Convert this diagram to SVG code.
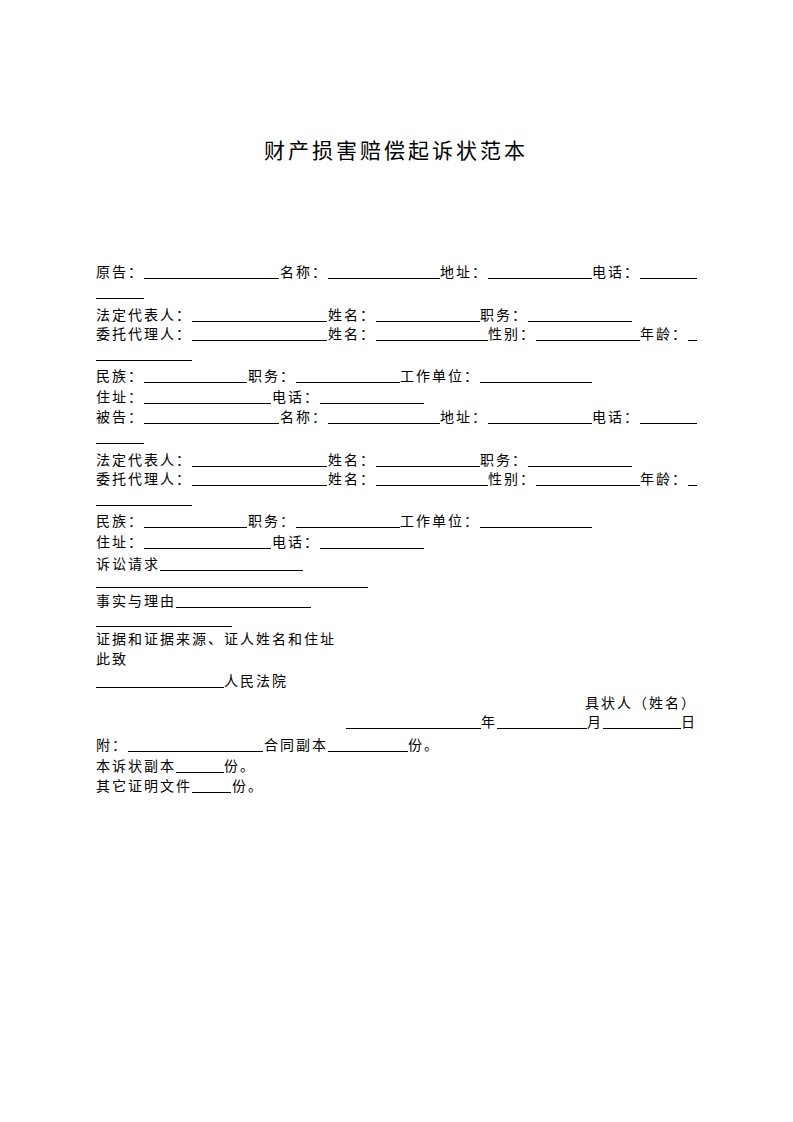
<svg xmlns="http://www.w3.org/2000/svg" width="793" height="1122" viewBox="0 0 793 1122">
<style>
.t{font-family:"Noto Sans CJK SC","Noto Sans CJK JP",sans-serif;font-size:14px;letter-spacing:2px;fill:#000}
.h{font-family:"Noto Sans CJK SC","Noto Sans CJK JP",sans-serif;font-size:21px;letter-spacing:3px;fill:#000}
.u line{stroke:#000;stroke-width:1}
</style>
<rect width="793" height="1122" fill="#fff"/>
<g id="title"><text class="h" x="264" y="158">财产损害赔偿起诉状范本</text></g>

<g id="plaintiff">
<text class="t" x="96" y="277">原告：</text>
<text class="t" x="280" y="277">名称：</text>
<text class="t" x="440" y="277">地址：</text>
<text class="t" x="592" y="277">电话：</text>
<text class="t" x="96" y="320">法定代表人：</text>
<text class="t" x="328" y="320">姓名：</text>
<text class="t" x="480" y="320">职务：</text>
<text class="t" x="96" y="339">委托代理人：</text>
<text class="t" x="328" y="339">姓名：</text>
<text class="t" x="488" y="339">性别：</text>
<text class="t" x="640" y="339">年龄：</text>
<text class="t" x="96" y="381">民族：</text>
<text class="t" x="248" y="381">职务：</text>
<text class="t" x="400" y="381">工作单位：</text>
<text class="t" x="96" y="402">住址：</text>
<text class="t" x="272" y="402">电话：</text>
</g>

<g id="defendant">
<text class="t" x="96" y="422">被告：</text>
<text class="t" x="280" y="422">名称：</text>
<text class="t" x="440" y="422">地址：</text>
<text class="t" x="592" y="422">电话：</text>
<text class="t" x="96" y="465">法定代表人：</text>
<text class="t" x="328" y="465">姓名：</text>
<text class="t" x="480" y="465">职务：</text>
<text class="t" x="96" y="484">委托代理人：</text>
<text class="t" x="328" y="484">姓名：</text>
<text class="t" x="488" y="484">性别：</text>
<text class="t" x="640" y="484">年龄：</text>
<text class="t" x="96" y="526">民族：</text>
<text class="t" x="248" y="526">职务：</text>
<text class="t" x="400" y="526">工作单位：</text>
<text class="t" x="96" y="547">住址：</text>
<text class="t" x="272" y="547">电话：</text>
</g>

<g id="body">
<text class="t" x="96" y="569">诉讼请求</text>
<text class="t" x="96" y="606">事实与理由</text>
<text class="t" x="96" y="644">证据和证据来源、证人姓名和住址</text>
<text class="t" x="96" y="664">此致</text>
<text class="t" x="224" y="686">人民法院</text>
<text class="t" x="585" y="708">具状人（姓名）</text>
<text class="t" x="481" y="727">年</text>
<text class="t" x="587" y="727">月</text>
<text class="t" x="681" y="727">日</text>
<text class="t" x="96" y="750">附：</text>
<text class="t" x="264" y="750">合同副本</text>
<text class="t" x="408" y="750">份。</text>
<text class="t" x="96" y="771">本诉状副本</text>
<text class="t" x="224" y="771">份。</text>
<text class="t" x="96" y="791">其它证明文件</text>
<text class="t" x="232" y="791">份。</text>
</g>

<g id="underlines" class="u">
<line x1="144" y1="278.5" x2="279" y2="278.5"/>
<line x1="328" y1="278.5" x2="440" y2="278.5"/>
<line x1="488" y1="278.5" x2="592" y2="278.5"/>
<line x1="640" y1="278.5" x2="697" y2="278.5"/>
<line x1="96" y1="298.5" x2="144" y2="298.5"/>
<line x1="192" y1="321.5" x2="327" y2="321.5"/>
<line x1="376" y1="321.5" x2="480" y2="321.5"/>
<line x1="528" y1="321.5" x2="632" y2="321.5"/>
<line x1="192" y1="340.5" x2="327" y2="340.5"/>
<line x1="376" y1="340.5" x2="488" y2="340.5"/>
<line x1="536" y1="340.5" x2="640" y2="340.5"/>
<line x1="688" y1="340.5" x2="697" y2="340.5"/>
<line x1="96" y1="360.5" x2="192" y2="360.5"/>
<line x1="144" y1="382.5" x2="247" y2="382.5"/>
<line x1="296" y1="382.5" x2="400" y2="382.5"/>
<line x1="480" y1="382.5" x2="592" y2="382.5"/>
<line x1="144" y1="403.5" x2="271" y2="403.5"/>
<line x1="320" y1="403.5" x2="424" y2="403.5"/>

<line x1="144" y1="423.5" x2="279" y2="423.5"/>
<line x1="328" y1="423.5" x2="440" y2="423.5"/>
<line x1="488" y1="423.5" x2="592" y2="423.5"/>
<line x1="640" y1="423.5" x2="697" y2="423.5"/>
<line x1="96" y1="443.5" x2="144" y2="443.5"/>
<line x1="192" y1="466.5" x2="327" y2="466.5"/>
<line x1="376" y1="466.5" x2="480" y2="466.5"/>
<line x1="528" y1="466.5" x2="632" y2="466.5"/>
<line x1="192" y1="485.5" x2="327" y2="485.5"/>
<line x1="376" y1="485.5" x2="488" y2="485.5"/>
<line x1="536" y1="485.5" x2="640" y2="485.5"/>
<line x1="688" y1="485.5" x2="697" y2="485.5"/>
<line x1="96" y1="505.5" x2="192" y2="505.5"/>
<line x1="144" y1="527.5" x2="247" y2="527.5"/>
<line x1="296" y1="527.5" x2="400" y2="527.5"/>
<line x1="480" y1="527.5" x2="592" y2="527.5"/>
<line x1="144" y1="548.5" x2="271" y2="548.5"/>
<line x1="320" y1="548.5" x2="424" y2="548.5"/>

<line x1="160" y1="570.5" x2="303" y2="570.5"/>
<line x1="96" y1="587.5" x2="368" y2="587.5"/>
<line x1="176" y1="607.5" x2="311" y2="607.5"/>
<line x1="96" y1="626.5" x2="232" y2="626.5"/>
<line x1="96" y1="687.5" x2="224" y2="687.5"/>
<line x1="346" y1="728.5" x2="481" y2="728.5"/>
<line x1="497" y1="728.5" x2="587" y2="728.5"/>
<line x1="603" y1="728.5" x2="681" y2="728.5"/>
<line x1="128" y1="751.5" x2="263" y2="751.5"/>
<line x1="328" y1="751.5" x2="408" y2="751.5"/>
<line x1="176" y1="772.5" x2="224" y2="772.5"/>
<line x1="192" y1="792.5" x2="231" y2="792.5"/>
</g>
</svg>
